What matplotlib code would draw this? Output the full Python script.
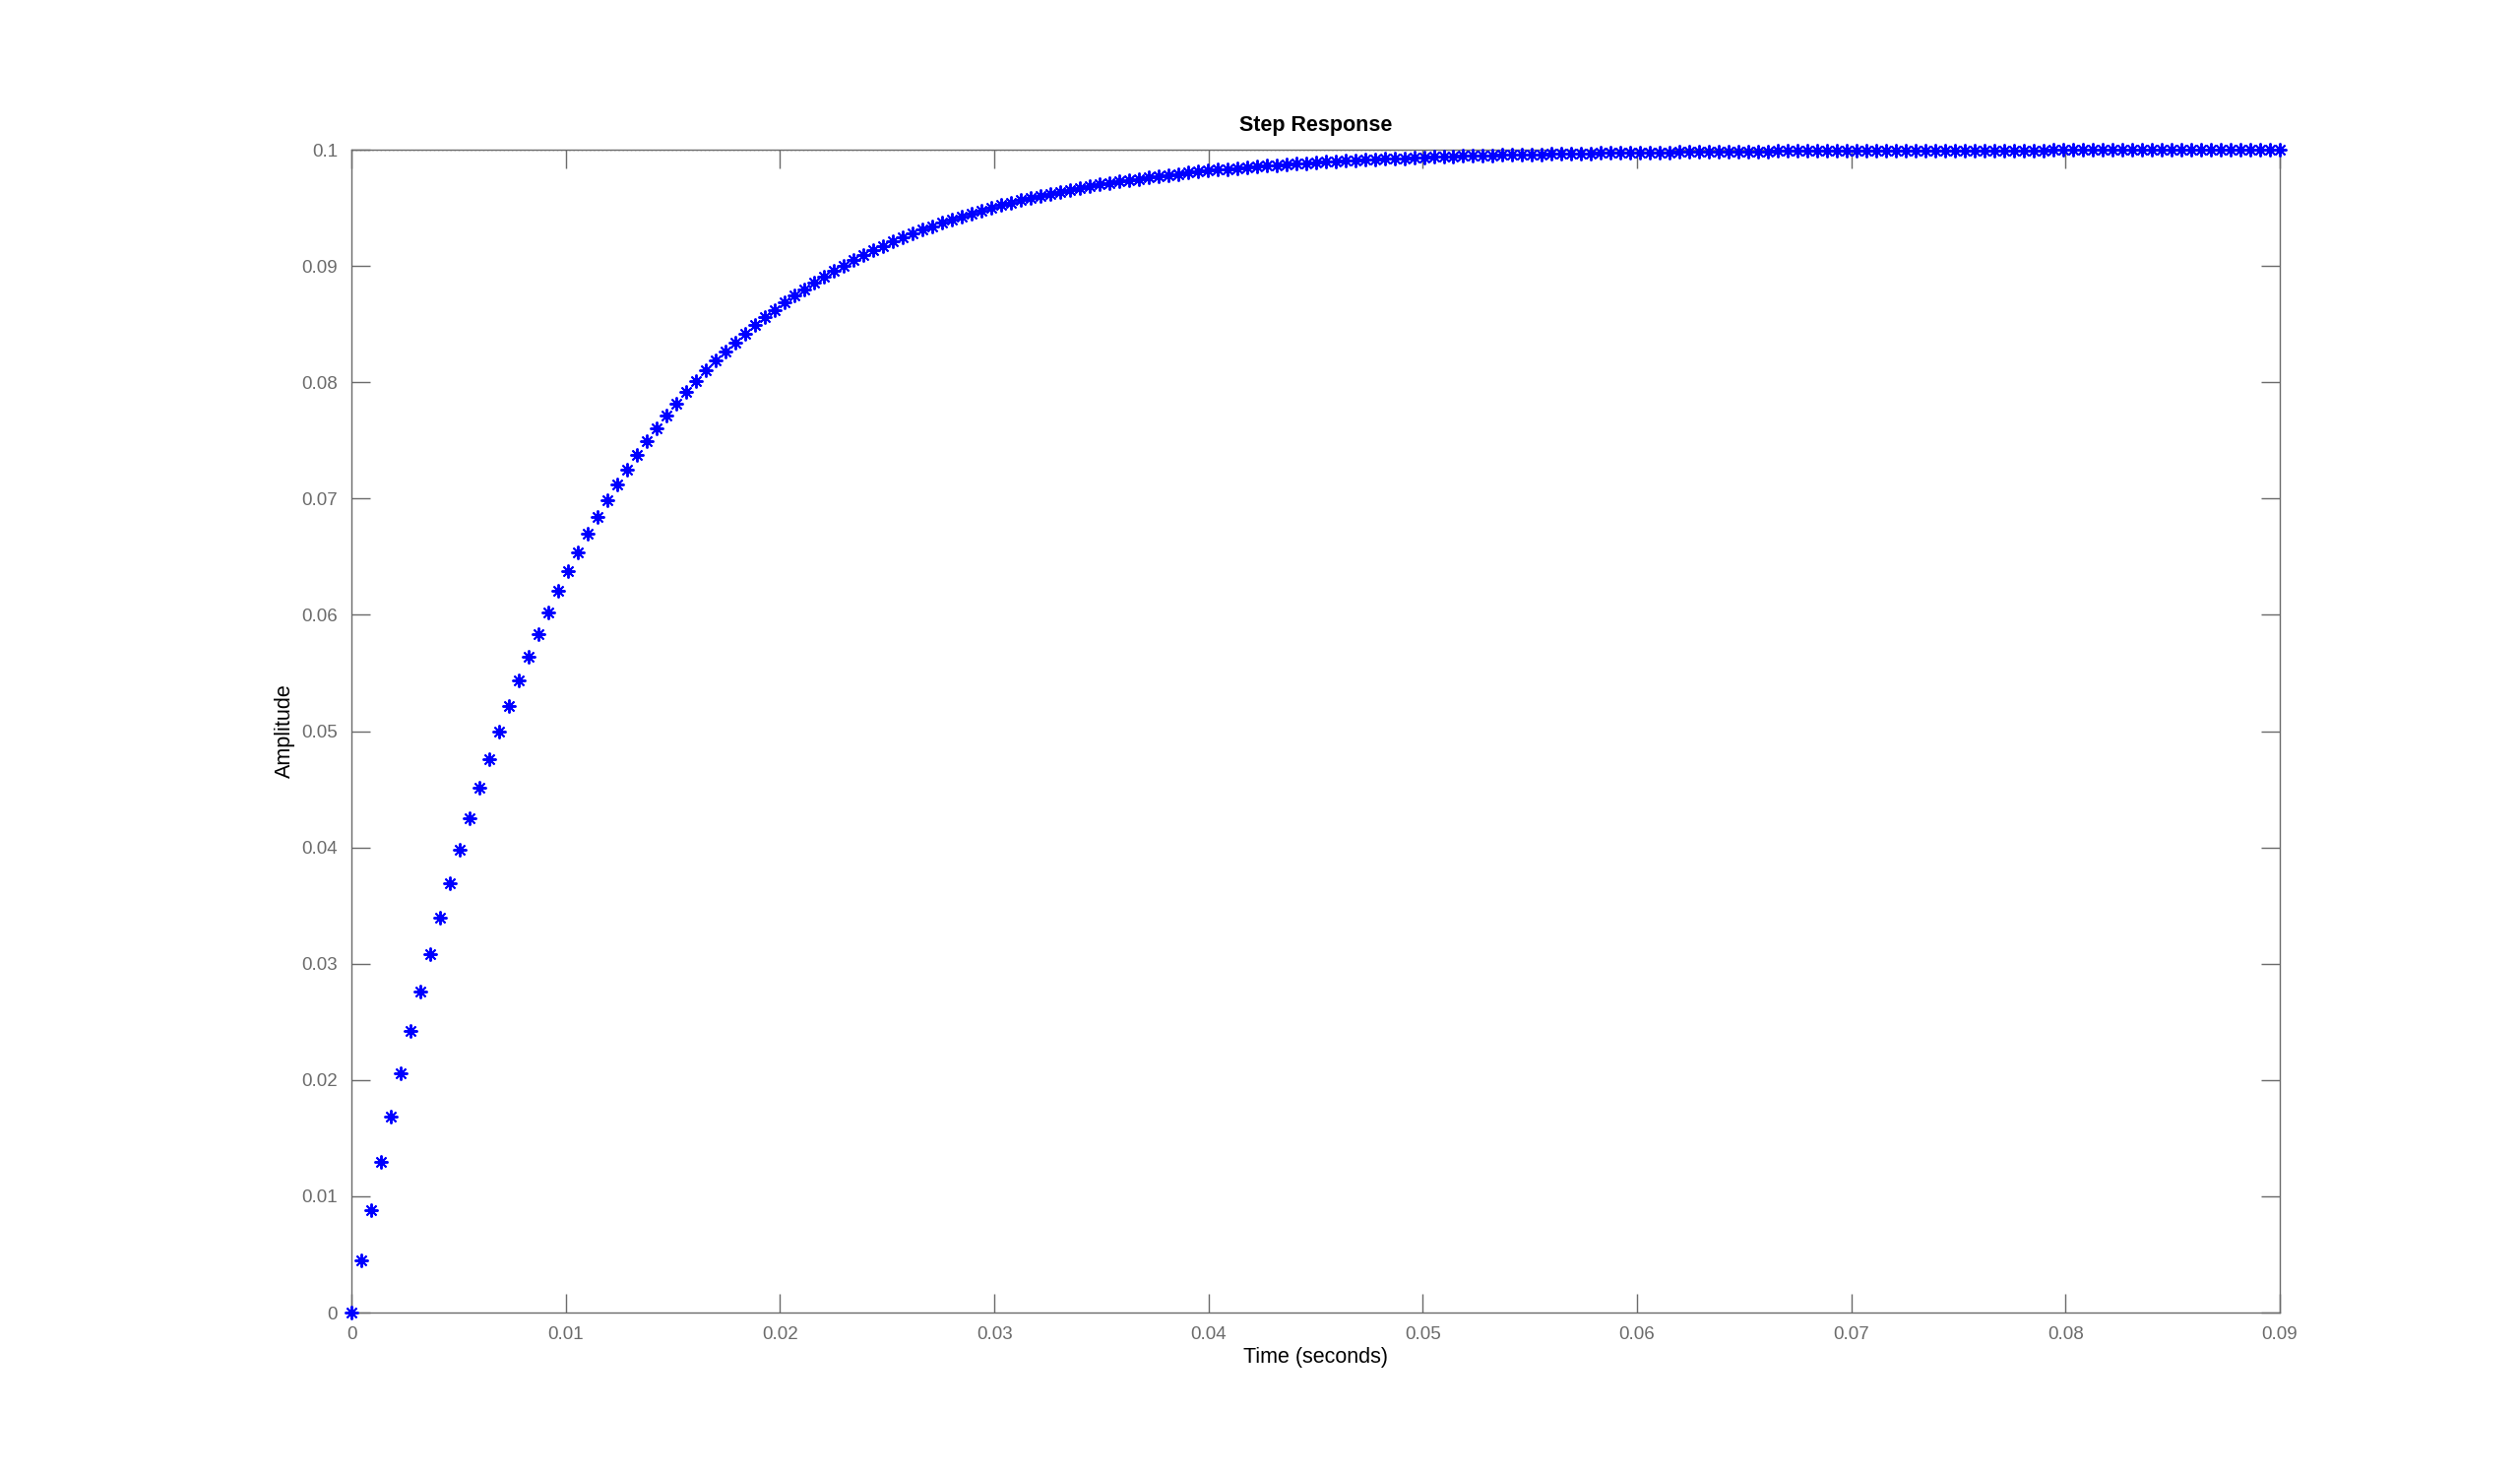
import numpy as np
import matplotlib
matplotlib.use("Agg")
import matplotlib.pyplot as plt

# step response samples (amplitude per sample, 0 .. 0.09 s)
amplitude = [
    0.00000, 0.00451, 0.00881, 0.01292, 0.01685, 0.02060, 0.02418, 0.02760, 0.03086, 0.03398,
    0.03695, 0.03980, 0.04251, 0.04510, 0.04758, 0.04994, 0.05220, 0.05435, 0.05641, 0.05837,
    0.06025, 0.06204, 0.06375, 0.06539, 0.06695, 0.06844, 0.06986, 0.07122, 0.07252, 0.07376,
    0.07494, 0.07607, 0.07715, 0.07818, 0.07916, 0.08010, 0.08100, 0.08186, 0.08267, 0.08345,
    0.08420, 0.08491, 0.08559, 0.08624, 0.08686, 0.08745, 0.08802, 0.08856, 0.08908, 0.08957,
    0.09004, 0.09049, 0.09092, 0.09133, 0.09172, 0.09209, 0.09245, 0.09279, 0.09311, 0.09342,
    0.09372, 0.09400, 0.09427, 0.09453, 0.09478, 0.09501, 0.09524, 0.09545, 0.09566, 0.09585,
    0.09604, 0.09622, 0.09639, 0.09655, 0.09671, 0.09686, 0.09700, 0.09713, 0.09726, 0.09739,
    0.09750, 0.09762, 0.09772, 0.09783, 0.09792, 0.09802, 0.09811, 0.09819, 0.09827, 0.09835,
    0.09843, 0.09850, 0.09856, 0.09863, 0.09869, 0.09875, 0.09881, 0.09886, 0.09891, 0.09896,
    0.09901, 0.09905, 0.09910, 0.09914, 0.09917, 0.09921, 0.09925, 0.09928, 0.09931, 0.09934,
    0.09937, 0.09940, 0.09943, 0.09946, 0.09948, 0.09950, 0.09953, 0.09955, 0.09957, 0.09959,
    0.09961, 0.09962, 0.09964, 0.09966, 0.09967, 0.09969, 0.09970, 0.09971, 0.09973, 0.09974,
    0.09975, 0.09976, 0.09977, 0.09978, 0.09979, 0.09980, 0.09981, 0.09982, 0.09983, 0.09984,
    0.09984, 0.09985, 0.09986, 0.09986, 0.09987, 0.09988, 0.09988, 0.09989, 0.09989, 0.09990,
    0.09990, 0.09991, 0.09991, 0.09991, 0.09992, 0.09992, 0.09993, 0.09993, 0.09993, 0.09993,
    0.09994, 0.09994, 0.09994, 0.09995, 0.09995, 0.09995, 0.09995, 0.09995, 0.09996, 0.09996,
    0.09996, 0.09996, 0.09996, 0.09997, 0.09997, 0.09997, 0.09997, 0.09997, 0.09997, 0.09997,
    0.09998, 0.09998, 0.09998, 0.09998, 0.09998, 0.09998, 0.09998, 0.09998, 0.09998, 0.09998,
    0.09998, 0.09999, 0.09999, 0.09999, 0.09999, 0.09999, 0.09999,
]
t_end = 0.09
time = np.linspace(0, t_end, len(amplitude))
final_value = 0.1

x_ticks = [0, 0.01, 0.02, 0.03, 0.04, 0.05, 0.06, 0.07, 0.08, 0.09]
x_labels = ["0", "0.01", "0.02", "0.03", "0.04", "0.05", "0.06", "0.07", "0.08", "0.09"]
y_ticks = [0, 0.01, 0.02, 0.03, 0.04, 0.05, 0.06, 0.07, 0.08, 0.09, 0.1]
y_labels = ["0", "0.01", "0.02", "0.03", "0.04", "0.05", "0.06", "0.07", "0.08", "0.09", "0.1"]

plt.rcParams['font.family'] = ['Liberation Sans', 'DejaVu Sans']
axis_col = "#6a6a6a"

fig = plt.figure(figsize=(25.6, 14.98), dpi=100)
ax = fig.add_axes([0.1395, 0.1101, 0.7652, 0.7884])

# steady state line (dotted)
ax.axhline(final_value, color="#555555", ls=(0, (1, 2)), lw=1.0, zorder=1)
ax.plot(time, amplitude, ls="none", marker=(8, 2, 0), markersize=10,
        markeredgewidth=1.4, color=(0, 0, 1), zorder=3, clip_on=False)

ax.set_xlim(0, t_end)
ax.set_ylim(0, 0.1)
ax.set_xticks(x_ticks)
ax.set_xticklabels(x_labels)
ax.set_yticks(y_ticks)
ax.set_yticklabels(y_labels)

for s in ax.spines.values():
    s.set_color(axis_col)
    s.set_linewidth(1.0)
ax.tick_params(direction="in", length=13.5, width=1.0, colors=axis_col,
               labelsize=13.5, top=True, right=True, pad=10)

ax.set_title("Step Response", fontsize=15.5, fontweight="bold", pad=14)
ax.set_xlabel("Time (seconds)", fontsize=15.5, labelpad=3)
ax.set_ylabel("Amplitude", fontsize=15.5, labelpad=5)

fig.savefig("out.png", dpi=100)
